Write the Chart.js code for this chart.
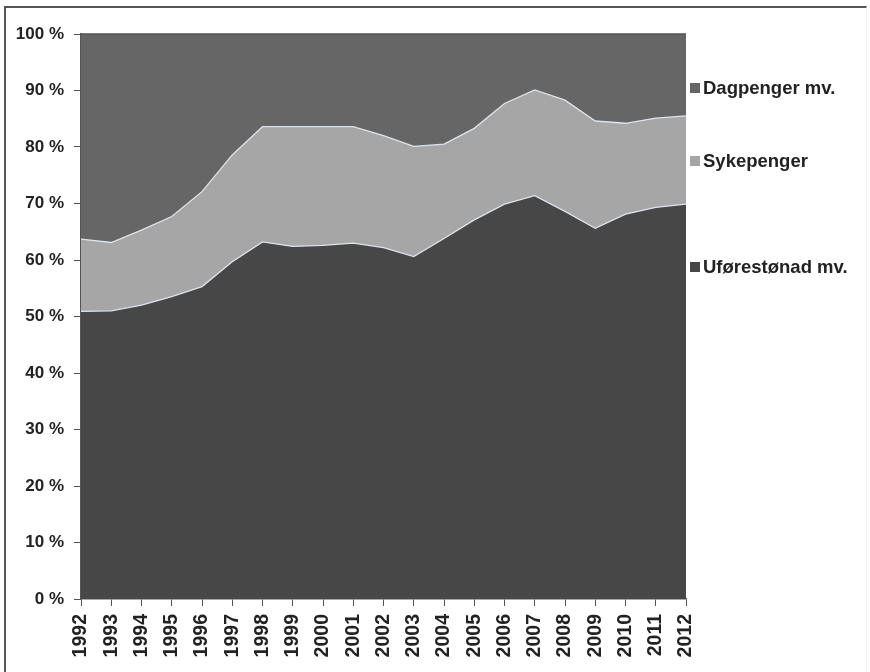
<!DOCTYPE html>
<html>
<head>
<meta charset="utf-8">
<script src="https://cdn.jsdelivr.net/npm/chart.js@4"></script>
<style>
    html, body { margin: 0; padding: 0; background: #fff; }
    .frame { position: relative; width: 870px; height: 672px; overflow: hidden; }
    .frame::before {
        content: ''; position: absolute; left: 4px; top: 6px; right: 3px; bottom: -4px;
        border-left: 2px solid #555; border-top: 2px solid #555; border-right: 1px solid #eef0f4;
        pointer-events: none;
    }
    canvas { position: absolute; left: 0; top: 0; }
    .legend { position: absolute; left: 690px; font-family: 'Liberation Sans Narrow', 'Liberation Sans', sans-serif;
        font-weight: bold; font-size: 18.5px; color: #222; white-space: nowrap; }
    .legend span { display: inline-block; width: 10px; height: 10px; margin-right: 3px; vertical-align: 1px; }
</style>
</head>
<body>
<div class="frame">
    <canvas id="chart" width="870" height="672"></canvas>
    <div class="legend" style="top: 77px;"><span style="background:#666"></span>Dagpenger mv.</div>
    <div class="legend" style="top: 150px;"><span style="background:#a6a6a6"></span>Sykepenger</div>
    <div class="legend" style="top: 256px;"><span style="background:#474747"></span>Uførestønad mv.</div>
</div>
<script>
// Data (share of total, %)
const years = ['1992','1993','1994','1995','1996','1997','1998','1999','2000','2001','2002',
    '2003','2004','2005','2006','2007','2008','2009','2010','2011','2012'];
const uforestonad = [50.9, 51.0, 52.0, 53.5, 55.3, 59.7, 63.2, 62.4, 62.6, 63.0, 62.2,
    60.6, 63.8, 67.1, 69.9, 71.4, 68.6, 65.6, 68.1, 69.3, 69.9];
const sykepenger = [12.8, 12.1, 13.3, 14.2, 16.8, 18.9, 20.4, 21.2, 21.0, 20.6, 19.8,
    19.5, 16.7, 16.2, 17.8, 18.7, 19.7, 19.0, 16.1, 15.8, 15.6];
const dagpenger = [36.3, 36.9, 34.7, 32.3, 27.9, 21.4, 16.4, 16.4, 16.4, 16.4, 18.0,
    19.9, 19.5, 16.7, 12.3, 9.9, 11.7, 15.4, 15.8, 14.9, 14.5];
const yTicks = [0, 10, 20, 30, 40, 50, 60, 70, 80, 90, 100];

const yFont = { family: "'Liberation Sans', sans-serif", size: 17, weight: 'bold' };
const xFont = { family: "'Liberation Sans', sans-serif", size: 19.5, weight: 'bold' };
const edge = '#dde3ea';

new Chart(document.getElementById('chart'), {
    type: 'line',
    data: {
        labels: years,
        datasets: [
            { label: 'Uførestønad mv.', data: uforestonad, backgroundColor: '#474747', borderColor: edge,
                borderWidth: 1.3, fill: 'origin', pointRadius: 0, tension: 0 },
            { label: 'Sykepenger', data: sykepenger, backgroundColor: '#a6a6a6', borderColor: edge,
                borderWidth: 1.3, fill: '-1', pointRadius: 0, tension: 0 },
            { label: 'Dagpenger mv.', data: dagpenger, backgroundColor: '#666666', borderColor: '#666666',
                borderWidth: 0, fill: '-1', pointRadius: 0, tension: 0 }
        ]
    },
    options: {
        responsive: false,
        animation: false,
        layout: { padding: { left: 0, top: 34, right: 184, bottom: 0 } },
        plugins: { legend: { display: false }, tooltip: { enabled: false } },
        scales: {
            x: {
                stacked: true,
                offset: false,
                grid: { display: true, drawOnChartArea: false, drawTicks: true, tickLength: 7, color: '#555' },
                border: { display: true, color: '#555', width: 1.5 },
                ticks: { color: '#222', font: xFont, minRotation: 90, maxRotation: 90, autoSkip: false, padding: 8 },
                afterFit: s => { s.height = 73; }
            },
            y: {
                stacked: true,
                min: 0, max: 100,
                afterBuildTicks: s => { s.ticks = yTicks.map(v => ({ value: v })); },
                grid: { display: true, drawOnChartArea: false, drawTicks: true, tickLength: 7, color: '#555' },
                border: { display: true, color: '#555', width: 1.5 },
                ticks: { color: '#222', font: yFont, padding: 10, callback: v => v + ' %' },
                afterFit: s => { s.width = 81; }
            }
        }
    },
    plugins: [{
        id: 'topEdge',
        afterDatasetsDraw(chart) {
            const { ctx, chartArea: a } = chart;
            ctx.save();
            ctx.strokeStyle = '#555';
            ctx.lineWidth = 1.5;
            ctx.beginPath();
            ctx.moveTo(a.left, a.top);
            ctx.lineTo(a.right, a.top);
            ctx.stroke();
            ctx.restore();
        }
    }]
});
</script>
</body>
</html>
